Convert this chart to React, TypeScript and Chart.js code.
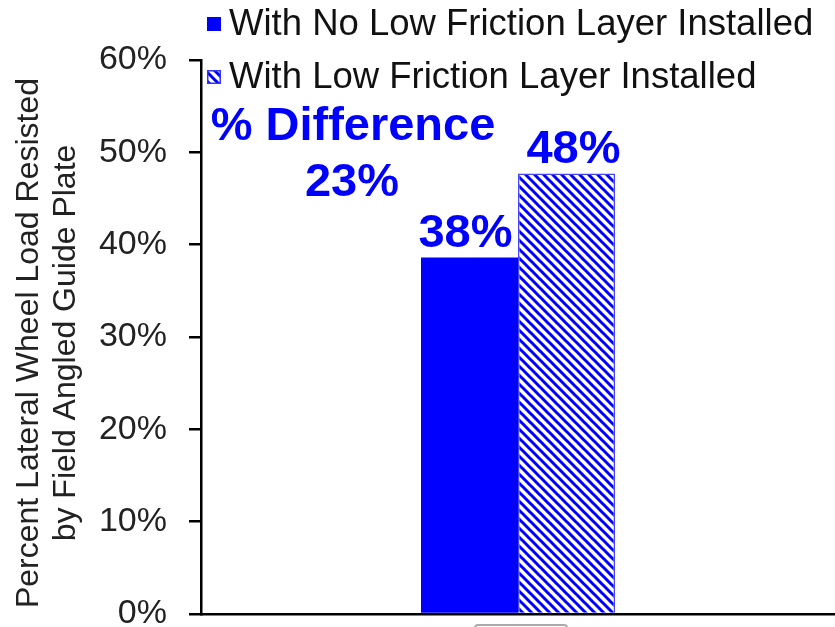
import React, { useEffect, useRef } from "react";
import { Chart, registerables } from "chart.js";

Chart.register(...registerables);

const categories = [""];
const seriesNames = ["With No Low Friction Layer Installed", "With Low Friction Layer Installed"];
const noLayerValues = [38.6];
const withLayerValues = [47.7];
const yMin = 0;
const yMax = 60;
const yStep = 10;
const valueLabels = ["38%", "48%"];
const differenceLabel = ["% Difference", "23%"];
const yTitle = ["Percent Lateral Wheel Load Resisted", "by Field Angled Guide Plate"];

const BLUE = "#0000ff";
const FONT = "'Liberation Sans', Arial, sans-serif";

function makePattern(ctx: CanvasRenderingContext2D) {
  const s = 9;
  const c = document.createElement("canvas");
  c.width = s;
  c.height = s;
  const g = c.getContext("2d")!;
  g.fillStyle = "#ffffff";
  g.fillRect(0, 0, s, s);
  g.strokeStyle = BLUE;
  g.lineWidth = 3;
  g.beginPath();
  g.moveTo(-2, -2);
  g.lineTo(s + 2, s + 2);
  g.moveTo(-3, s - 3);
  g.lineTo(3, s + 3);
  g.moveTo(s - 3, -3);
  g.lineTo(s + 3, 3);
  g.stroke();
  return ctx.createPattern(c, "repeat")!;
}

export default function App() {
  const ref = useRef<HTMLCanvasElement | null>(null);

  useEffect(() => {
    const canvas = ref.current!;
    const ctx = canvas.getContext("2d")!;
    const pattern = makePattern(ctx);

    const overlay = {
      id: "overlay",
      afterDraw(chart: any) {
        const c = chart.ctx as CanvasRenderingContext2D;
        const area = chart.chartArea;
        c.save();
        // Y axis title
        c.fillStyle = "#222222";
        c.font = `32px ${FONT}`;
        c.textAlign = "center";
        c.textBaseline = "middle";
        const cy = (area.top + area.bottom) / 2 + 6;
        [29, 66].forEach((x, i) => {
          c.save();
          c.translate(x, cy);
          c.rotate(-Math.PI / 2);
          c.fillText(yTitle[i], 0, 0);
          c.restore();
        });

        // Legend
        const legendX = 207;
        const rows = [24, 77];
        c.font = `36.5px ${FONT}`;
        c.textAlign = "left";
        c.textBaseline = "middle";
        rows.forEach((y, i) => {
          const bs = 14;
          if (i === 0) {
            c.fillStyle = BLUE;
            c.fillRect(legendX, y - bs / 2, bs, bs);
          } else {
            c.fillStyle = pattern;
            c.fillRect(legendX, y - bs / 2, bs, bs);
            c.strokeStyle = "#3333ff";
            c.lineWidth = 1.5;
            c.strokeRect(legendX + 0.75, y - bs / 2 + 0.75, bs - 1.5, bs - 1.5);
          }
          c.fillStyle = "#111111";
          c.fillText(seriesNames[i], legendX + 22, y + 1);
        });

        // Difference annotation
        c.fillStyle = BLUE;
        c.font = `bold 47px ${FONT}`;
        c.textAlign = "center";
        c.textBaseline = "alphabetic";
        c.fillText(differenceLabel[0], 353, 140);
        c.fillText(differenceLabel[1], 352, 196);

        // Value labels above bars
        const offsets = [-4, 7];
        [0, 1].forEach((di) => {
          const el = chart.getDatasetMeta(di).data[0];
          if (!el) return;
          c.fillText(valueLabels[di], el.x + offsets[di], el.y - 11);
        });

        // Small clipped box at bottom
        c.strokeStyle = "#aaaaaa";
        c.lineWidth = 2;
        c.beginPath();
        c.moveTo(475, 640);
        c.lineTo(475, 628);
        c.quadraticCurveTo(475, 625, 478, 625);
        c.lineTo(564, 625);
        c.quadraticCurveTo(567, 625, 567, 628);
        c.lineTo(567, 640);
        c.stroke();
        c.restore();
      },
    };

    const chart = new Chart(canvas, {
      type: "bar",
      data: {
        labels: categories,
        datasets: [
          {
            label: seriesNames[0],
            data: noLayerValues,
            backgroundColor: BLUE,
            borderWidth: 0,
          },
          {
            label: seriesNames[1],
            data: withLayerValues,
            backgroundColor: pattern as any,
            borderColor: "#4444ff",
            borderWidth: 1.5,
          },
        ],
      },
      options: {
        responsive: false,
        animation: false,
        devicePixelRatio: 1,
        layout: { padding: { top: 60, right: 0, left: 0, bottom: 0 } },
        datasets: {
          bar: { categoryPercentage: 0.306, barPercentage: 1 },
        },
        plugins: {
          legend: { display: false },
          tooltip: { enabled: false },
          title: { display: false },
        },
        scales: {
          x: {
            ticks: { display: false },
            grid: { display: false },
            border: { display: true, color: "#000000", width: 2.5 },
            afterFit(s: any) {
              s.height = 13;
              s.paddingLeft = 0;
              s.paddingRight = 0;
            },
          },
          y: {
            min: yMin,
            max: yMax,
            ticks: {
              stepSize: yStep,
              color: "#222222",
              font: { family: FONT, size: 34 },
              padding: 22,
              callback: (v: any) => `${v}%`,
            },
            grid: {
              drawOnChartArea: false,
              drawTicks: true,
              tickLength: 12,
              color: "#000000",
              lineWidth: 2.5,
            },
            border: { display: true, color: "#000000", width: 2.5 },
            afterFit(s: any) {
              s.width = 201;
              s.paddingTop = 0;
              s.paddingBottom = 0;
            },
          },
        },
      },
      plugins: [overlay],
    });

    return () => chart.destroy();
  }, []);

  return (
    <div style={{ position: "fixed", left: 0, top: 0, width: 835, height: 627, background: "#fff" }}>
      <canvas ref={ref} width={835} height={627} style={{ display: "block", width: 835, height: 627 }} />
    </div>
  );
}
